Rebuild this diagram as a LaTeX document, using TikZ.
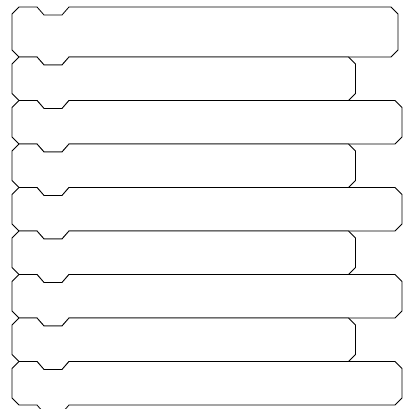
\documentclass[tikz,border=0pt]{standalone}
\begin{document}
\begin{tikzpicture}[x=1pt,y=-1pt,
  blockline/.style={draw=black,fill=white,line width=0.8pt,line join=miter}]
\useasboundingbox (0,0) rectangle (408,409);
\clip (0,0) rectangle (408,409);
\foreach \t/\b/\r [count=\i] in {7/57/398, 57/100.5/355.5, 100.5/144/402, 144/187.5/355.5, 187.5/231/402, 231/274.5/355.5, 274.5/318/402, 318/361.5/355.5, 361.5/405/402}{
  \draw[blockline] (12,\t+7) -- (19,\t) -- (37,\t) -- (44,\t+8) -- (62,\t+8) -- (69,\t)
    -- (\r-7,\t) -- (\r,\t+7) -- (\r,\b-7) -- (\r-7,\b)
    -- (69,\b) -- (62,\b+8) -- (44,\b+8) -- (37,\b) -- (19,\b) -- (12,\b-7) -- cycle;
}
\end{tikzpicture}
\end{document}
